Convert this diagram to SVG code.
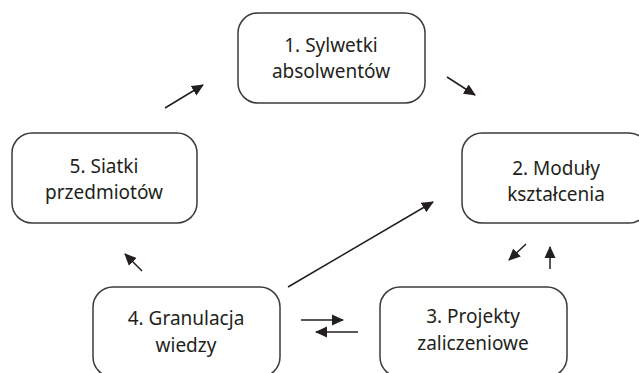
<svg xmlns="http://www.w3.org/2000/svg" width="639" height="373" viewBox="0 0 639 373">
<defs>
<style>
.box{fill:#fff;stroke:#3b3b3b;stroke-width:1.5}
.t{font-family:"Noto Sans","Liberation Sans",sans-serif;font-size:19px;fill:#231f20;text-anchor:middle}
.c{stroke:#231f20;stroke-width:1.5;fill:none;marker-end:url(#ah)}
</style>
<marker id="ah" markerWidth="12" markerHeight="12" refX="11" refY="6" orient="auto" markerUnits="userSpaceOnUse" viewBox="0 0 12 12">
<path d="M0,0.5 L12,6 L0,11.5 z" fill="#231f20"/>
</marker>
</defs>
<rect width="639" height="373" fill="#fff"/>
<g id="n1"><rect class="box" x="238" y="13" width="187" height="90" rx="20"/><text class="t" x="331" y="52">1. Sylwetki</text><text class="t" x="331" y="78">absolwentów</text></g>
<g id="n2"><rect class="box" x="462" y="133" width="187" height="90" rx="20"/><text class="t" x="556" y="175">2. Moduły</text><text class="t" x="556" y="201">kształcenia</text></g>
<g id="n3"><rect class="box" x="380" y="287" width="187" height="90" rx="20"/><text class="t" x="473" y="323">3. Projekty</text><text class="t" x="473" y="350">zaliczeniowe</text></g>
<g id="n4"><rect class="box" x="93" y="287" width="187" height="90" rx="20"/><text class="t" x="186" y="325">4. Granulacja</text><text class="t" x="186" y="352">wiedzy</text></g>
<g id="n5"><rect class="box" x="12" y="133" width="185" height="90" rx="20"/><text class="t" x="104" y="173">5. Siatki</text><text class="t" x="104" y="199">przedmiotów</text></g>
<g id="connectors">
<line class="c" x1="447" y1="77" x2="475" y2="95"/>
<line class="c" x1="165" y1="108" x2="203" y2="85"/>
<line class="c" x1="288" y1="287" x2="433" y2="202"/>
<line class="c" x1="301" y1="320" x2="343" y2="320"/>
<line class="c" x1="358" y1="332" x2="316" y2="332"/>
<line class="c" x1="526" y1="244" x2="509" y2="260"/>
<line class="c" x1="550" y1="269" x2="550" y2="247"/>
<line class="c" x1="142" y1="271" x2="125" y2="254"/>
</g>
</svg>
